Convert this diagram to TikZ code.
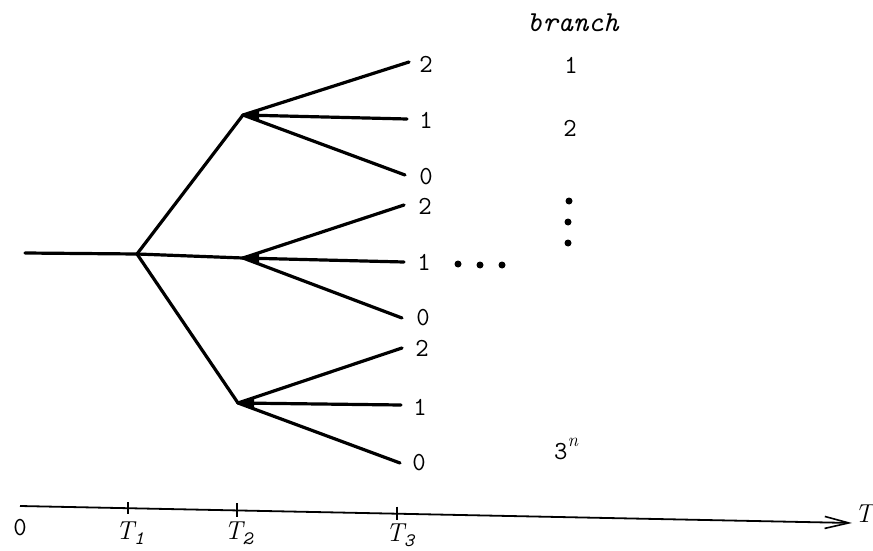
\documentclass[tikz,border=0pt]{standalone}
\usepackage{fontspec}
\usetikzlibrary{arrows.meta}
\newcommand{\subdig}[1]{\raisebox{-0.22em}{\fontsize{19}{20}\selectfont\ttfamily #1}}
\begin{document}
\begin{tikzpicture}[x=1pt,y=-1pt,
  branchline/.style={line width=3.2pt, line cap=round},
  lbl/.style={font=\fontsize{26}{30}\selectfont\ttfamily, inner sep=0pt},
  tlbl/.style={font=\fontsize{26}{30}\selectfont\rmfamily, inner sep=0pt, anchor=base},
  dotmark/.style={circle, fill, inner sep=0pt, minimum size=7pt},
  tickmark/.style={line width=1.6pt},
  wedge/.style={fill}]
\useasboundingbox (0,0) rectangle (873,551);

% tree points
\coordinate (R) at (25,253);
\coordinate (J) at (137,254);
\coordinate (A) at (243,115);
\coordinate (B) at (243,258);
\coordinate (C) at (238,403);
\coordinate (A2) at (409,62);
\coordinate (A1) at (407,119);
\coordinate (A0) at (405,175);
\coordinate (B2) at (404,205);
\coordinate (B1) at (404,262);
\coordinate (B0) at (402,318);
\coordinate (C2) at (402,348);
\coordinate (C1) at (401,405);
\coordinate (C0) at (400,463);

\draw[branchline] (R) -- (J);
\draw[branchline] (J) -- (A);
\draw[branchline] (J) -- (B);
\draw[branchline] (J) -- (C);
\draw[branchline] (A) -- (A2);
\draw[branchline] (A) -- (A1);
\draw[branchline] (A) -- (A0);
\draw[branchline] (B) -- (B2);
\draw[branchline] (B) -- (B1);
\draw[branchline] (B) -- (B0);
\draw[branchline] (C) -- (C2);
\draw[branchline] (C) -- (C1);
\draw[branchline] (C) -- (C0);

% small wedges at the branch points
\fill[wedge] (A) -- ++(16,-5) -- ++(0,10) -- cycle;
\fill[wedge] (B) -- ++(16,-5) -- ++(0,10) -- cycle;
\fill[wedge] (C) -- ++(16,-5) -- ++(0,10) -- cycle;

% end labels
\node[lbl] (lA2) at (426,64) {2};
\node[lbl] (lA1) at (426,120) {1};
\node[lbl] (lA0) at (426,177) {0};
\node[lbl] (lB2) at (425,206) {2};
\node[lbl] (lB1) at (424,262) {1};
\node[lbl] (lB0) at (423,318) {0};
\node[lbl] (lC2) at (422,348) {2};
\node[lbl] (lC1) at (420,407) {1};
\node[lbl] (lC0) at (419,463) {0};

% horizontal dots
\node[dotmark] (h1) at (458,264) {};
\node[dotmark] (h2) at (480,265) {};
\node[dotmark] (h3) at (502,265) {};

% branch column
\node[lbl, anchor=base, font=\fontsize{29}{32}\selectfont\ttfamily\itshape] (br) at (573,32) {branch};
\node[lbl] (b1) at (571,65) {1};
\node[lbl] (b2) at (570,128) {2};
\node[dotmark] (v1) at (569,201) {};
\node[dotmark] (v2) at (568,222) {};
\node[dotmark] (v3) at (568,243) {};
\node[lbl, anchor=base west] (b3n) at (554,459) {3\raisebox{0.5em}{\fontsize{19}{20}\selectfont\rmfamily\itshape n}};

% time axis
\coordinate (ax0) at (20,506);
\coordinate (ax1) at (852,523);
\draw[line width=1.8pt, -{Straight Barb[length=24pt,width=12pt,line width=1.6pt]}] (ax0) -- (ax1);
\coordinate (t1) at (128,508.2);
\coordinate (t2) at (237,510.4);
\coordinate (t3) at (397,513.7);
\draw[tickmark] (t1) ++(0,-6) -- ++(0,12);
\draw[tickmark] (t2) ++(0,-7) -- ++(0,14);
\draw[tickmark] (t3) ++(0,-7) -- ++(0,13);

\node[lbl] (l0) at (20,528) {0};
\node[tlbl] (lT1) at (130,539) {\itshape T\subdig{1}};
\node[tlbl] (lT2) at (238.5,539) {\itshape T\subdig{2}};
\node[tlbl] (lT3) at (400,541) {\itshape T\subdig{3}};
\node[tlbl] (lT) at (864,522) {\itshape T};
\end{tikzpicture}
\end{document}
